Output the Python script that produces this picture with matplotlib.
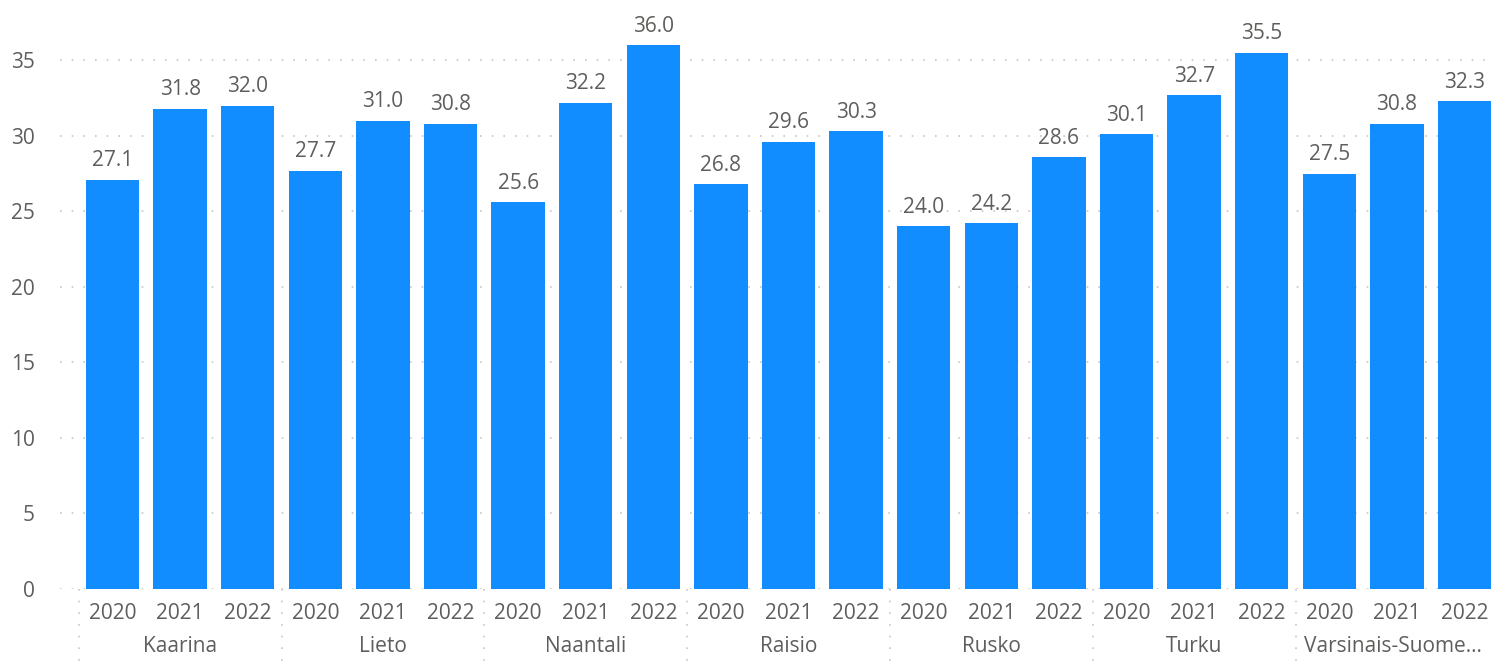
import matplotlib
matplotlib.use("Agg")
import matplotlib.pyplot as plt
import matplotlib.transforms as mtransforms

# data
towns = ["Kaarina", "Lieto", "Naantali", "Raisio", "Rusko", "Turku", "Varsinais-Suome..."]
years = ["2020", "2021", "2022"]
values = [
    27.1, 31.8, 32.0,
    27.7, 31.0, 30.8,
    25.6, 32.2, 36.0,
    26.8, 29.6, 30.3,
    24.0, 24.2, 28.6,
    30.1, 32.7, 35.5,
    27.5, 30.8, 32.3,
]
yticks = [0, 5, 10, 15, 20, 25, 30, 35]

bar_color = "#118DFF"
text_color = "#605E5C"
grid_color = "#C8C6C4"

plt.rcParams["font.family"] = ["Open Sans", "DejaVu Sans"]

fig = plt.figure(figsize=(14.94, 6.67), dpi=100)
ax = fig.add_axes([60 / 1494, 78 / 667, 1434 / 1494, 559 / 667])

ny = len(years)
xs = list(range(len(values)))
ax.bar(xs, values, width=0.79, color=bar_color, zorder=2)

for x, v in zip(xs, values):
    ax.annotate(f"{v:.1f}", (x, v), xytext=(0, 6), textcoords="offset points",
                ha="center", va="bottom", fontsize=15, color=text_color)

ax.set_xlim(-0.777, 20.436)
ax.set_ylim(0, 37)
ax.set_yticks(yticks)
ax.set_yticklabels([str(t) for t in yticks], fontsize=15, color=text_color)
ax.tick_params(axis="y", length=0, pad=18)
ax.yaxis.grid(True, color=grid_color, linestyle=(0, (1, 6)), linewidth=1.2, zorder=0)

ax.set_xticks(xs)
ax.set_xticklabels(years * len(towns), fontsize=15, color=text_color)
ax.tick_params(axis="x", length=0, pad=10)

for s in ax.spines.values():
    s.set_visible(False)

# category labels and separators under the year labels
trans = mtransforms.blended_transform_factory(ax.transData, ax.transAxes)
for i, name in enumerate(towns):
    if name.endswith("..."):
        ax.text(i * ny - 0.5 + 0.12, -0.103, name, transform=trans, ha="left", va="center",
                fontsize=15, color=text_color)
    else:
        ax.text(i * ny + 1, -0.103, name, transform=trans, ha="center", va="center",
                fontsize=15, color=text_color)
    ax.plot([i * ny - 0.5, i * ny - 0.5], [0, -0.14], transform=trans, clip_on=False,
            color=grid_color, linestyle=(0, (1, 6)), linewidth=1.2)

fig.savefig("out.png", dpi=100)
